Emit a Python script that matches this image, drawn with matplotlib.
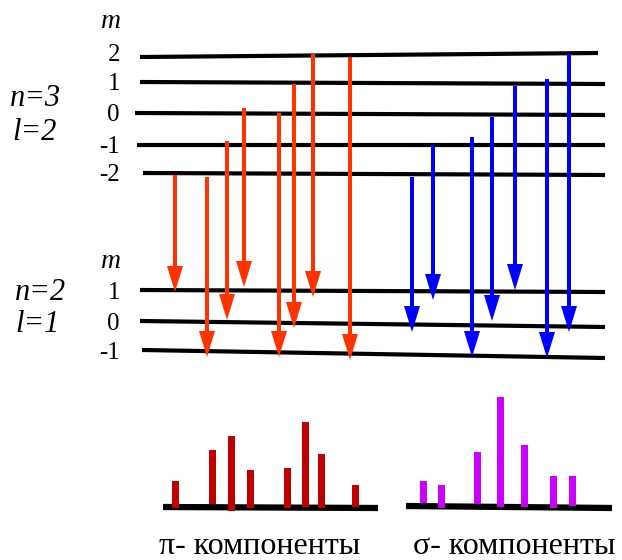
import matplotlib
matplotlib.use("Agg")
import matplotlib.pyplot as plt
import numpy as np

# ---------------- data (pixel-space diagram) ----------------
# upper term n=3, l=2 : m labels and level line heights (left end, right end)
upper_m = ["2", "1", "0", "-1", "-2"]
upper_y_left = [57, 82, 113, 145, 173]
upper_y_right = [53, 84, 115, 145, 175]
upper_x_left = [140, 140, 135, 137, 143]
upper_x_right = [598, 605, 605, 605, 605]

# lower term n=2, l=1
lower_m = ["1", "0", "-1"]
lower_y_left = [290, 321, 350]
lower_y_right = [292, 327, 358]
lower_x_left = [140, 140, 142]
lower_x_right = [605, 605, 605]

# pi transitions (red arrows): x, start y, tip y
pi_x = [175, 207, 227, 244, 279, 294, 313, 350]
pi_top = [175, 177, 141, 108, 113, 84, 54, 57]
pi_tip = [292, 357, 320, 287, 357, 328, 297, 360]

# sigma transitions (blue arrows)
sigma_x = [412, 433, 472, 492, 515, 547, 569]
sigma_top = [177, 145, 137, 117, 86, 79, 54]
sigma_tip = [332, 300, 357, 321, 290, 358, 332]

# spectra: line position, top, bottom
pi_lines_x = [175, 212, 231, 250, 287, 305, 321, 355]
pi_lines_top = [481, 450, 436, 470, 468, 422, 454, 485]
pi_lines_bottom = [508, 504, 511, 508, 508, 507, 508, 507]

sigma_lines_x = [423, 441, 477, 500, 524, 553, 572]
sigma_lines_top = [481, 485, 452, 397, 445, 476, 476]
sigma_lines_bottom = [503, 508, 504, 507, 507, 508, 506]

pi_base = ([163, 378], [507, 508])
sigma_base = ([406, 612], [506, 508])

# ---------------- drawing ----------------
W, H = 622, 560
fig = plt.figure(figsize=(W / 100, H / 100), dpi=100)
ax = fig.add_axes([0, 0, 1, 1])
ax.set_xlim(0, W)
ax.set_ylim(H, 0)
ax.axis("off")

serif = ["Liberation Serif", "DejaVu Serif"]
RED = "#ff3300"
BLUE = "#0000ff"
DARKRED = "#c00000"
MAGENTA = "#cc00ff"

for xl, xr, yl, yr in zip(upper_x_left, upper_x_right, upper_y_left, upper_y_right):
    ax.plot([xl, xr], [yl, yr], color="black", lw=3.0, solid_capstyle="butt", zorder=1)
for xl, xr, yl, yr in zip(lower_x_left, lower_x_right, lower_y_left, lower_y_right):
    ax.plot([xl, xr], [yl, yr], color="black", lw=3.0, solid_capstyle="butt", zorder=1)

# m labels
ax.text(111, 21, "m", family=serif, style="italic", fontsize=20, ha="center", va="center")
for i, (lab, y) in enumerate(zip(upper_m, upper_y_left)):
    dy = -2 if i == 0 else 2
    ax.text(120, y + dy, lab, family=serif, fontsize=18, ha="right", va="center")
ax.text(111, 262, "m", family=serif, style="italic", fontsize=20, ha="center", va="center")
for lab, y in zip(lower_m, lower_y_left):
    ax.text(120, y + 3, lab, family=serif, fontsize=18, ha="right", va="center")

ax.text(10, 99, "n=3", family=serif, style="italic", fontsize=22, ha="left", va="center")
ax.text(12, 133, "l=2", family=serif, style="italic", fontsize=22, ha="left", va="center")
ax.text(15, 293, "n=2", family=serif, style="italic", fontsize=22, ha="left", va="center")
ax.text(15, 325, "l=1", family=serif, style="italic", fontsize=22, ha="left", va="center")

def arrows(xs, tops, tips, color):
    for x, y0, y1 in zip(xs, tops, tips):
        ax.arrow(x, y0, 0, y1 - y0, width=4, head_width=16, head_length=26,
                 length_includes_head=True, color=color, lw=0, zorder=3)

arrows(pi_x, pi_top, pi_tip, RED)
arrows(sigma_x, sigma_top, sigma_tip, BLUE)

# spectra
ax.plot(*pi_base, color="black", lw=4.5, solid_capstyle="butt", zorder=1)
ax.plot(*sigma_base, color="black", lw=4.5, solid_capstyle="butt", zorder=1)
ax.bar(pi_lines_x, np.array(pi_lines_top) - np.array(pi_lines_bottom),
       bottom=pi_lines_bottom, width=7, color=DARKRED, zorder=2)
ax.bar(sigma_lines_x, np.array(sigma_lines_top) - np.array(sigma_lines_bottom),
       bottom=sigma_lines_bottom, width=7, color=MAGENTA, zorder=2)

ax.text(260, 547, "π- компоненты", family=serif, fontsize=23, ha="center", va="center")
ax.text(514, 547, "σ- компоненты", family=serif, fontsize=23, ha="center", va="center")

fig.savefig("out.png", dpi=100)
